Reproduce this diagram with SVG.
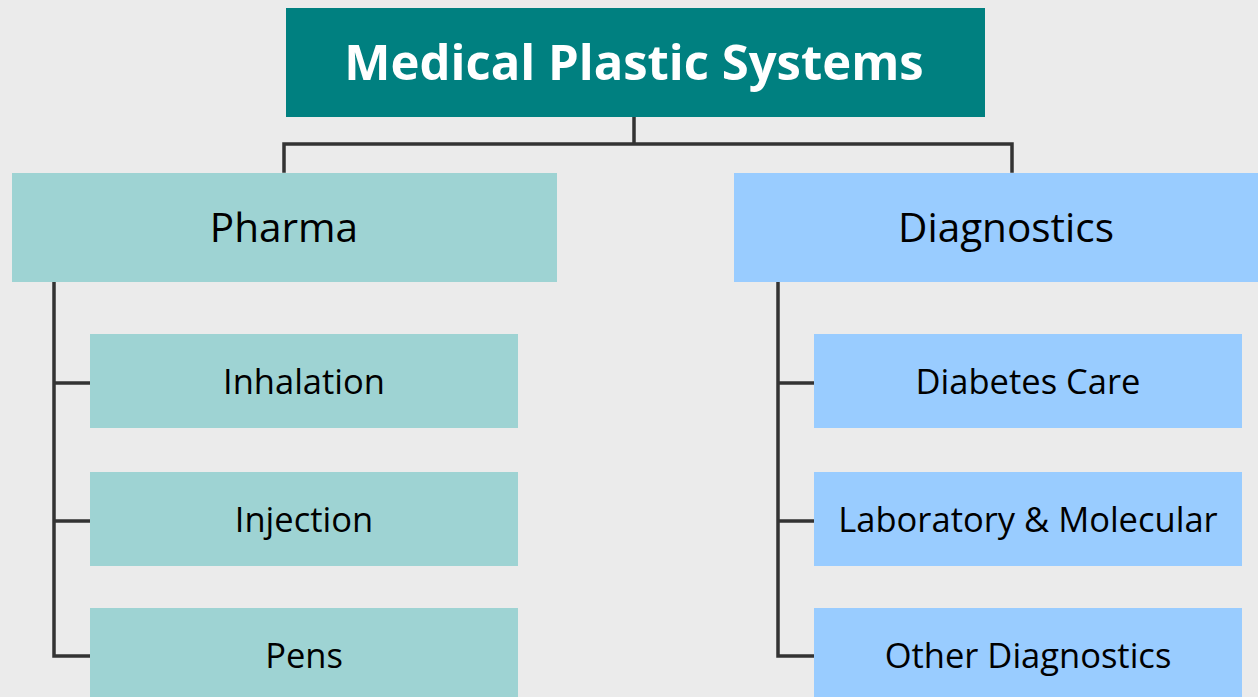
<svg xmlns="http://www.w3.org/2000/svg" width="1258" height="697" viewBox="0 0 1258 697">
<style>
.bg{fill:#EBEBEB}
.top{fill:#008080}
.ph{fill:#9ED3D3}
.dg{fill:#99CCFF}
.t{font-family:"Open Sans","Liberation Sans",sans-serif;text-anchor:middle;fill:#000}
.title{font-size:49px;font-weight:bold;fill:#fff}
.l1{font-size:40.5px}
.l2{font-size:34.5px}
.c{fill:none;stroke:#333;stroke-width:3.5;stroke-linecap:square}
</style>
<rect class="bg" x="0" y="0" width="1258" height="697"/>
<g id="connectors">
<path class="c" d="M634,117 V143 M284,171 V144 H1012 V171"/>
<path class="c" d="M54,282 V656 H90 M54,383 H90 M54,521 H90"/>
<path class="c" d="M778,282 V656 H814 M778,383 H814 M778,521 H814"/>
</g>
<g id="root"><rect class="top" x="286" y="8" width="699" height="109"/><text class="t title" x="634" y="80">Medical Plastic Systems</text></g>
<g id="pharma"><rect class="ph" x="12" y="173" width="545" height="109"/><text class="t l1" x="284" y="242">Pharma</text></g>
<g id="diagnostics"><rect class="dg" x="734" y="173" width="548" height="109"/><text class="t l1" x="1006" y="242">Diagnostics</text></g>
<g id="inhalation"><rect class="ph" x="90" y="334" width="428" height="94"/><text class="t l2" x="304" y="394">Inhalation</text></g>
<g id="injection"><rect class="ph" x="90" y="472" width="428" height="94"/><text class="t l2" x="304" y="532">Injection</text></g>
<g id="pens"><rect class="ph" x="90" y="608" width="428" height="94"/><text class="t l2" x="304" y="668">Pens</text></g>
<g id="diabetes"><rect class="dg" x="814" y="334" width="428" height="94"/><text class="t l2" x="1028" y="394">Diabetes Care</text></g>
<g id="laboratory"><rect class="dg" x="814" y="472" width="428" height="94"/><text class="t l2" x="1028" y="532">Laboratory &amp; Molecular</text></g>
<g id="other"><rect class="dg" x="814" y="608" width="428" height="94"/><text class="t l2" x="1028" y="668">Other Diagnostics</text></g>
</svg>
